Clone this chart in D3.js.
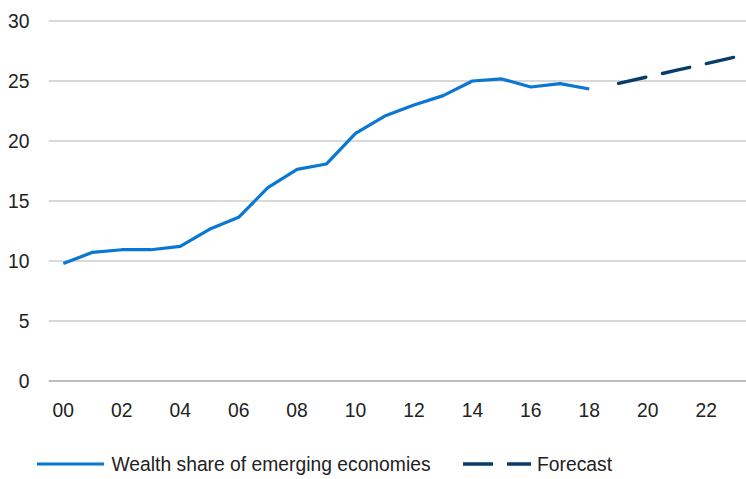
<!DOCTYPE html>
<html><head><meta charset="utf-8">
<script src="https://cdn.jsdelivr.net/npm/d3@7"></script>
<style>
body{margin:0;background:#fff;}
svg text{font-family:"Liberation Sans",Arial,sans-serif;fill:#222;}
</style></head>
<body><svg id="c" width="746" height="479"></svg>
<script>
const years = [2000,2001,2002,2003,2004,2005,2006,2007,2008,2009,2010,2011,2012,2013,2014,2015,2016,2017,2018];
const wealthShare = [9.8,10.72,10.94,10.94,11.22,12.64,13.64,16.11,17.64,18.08,20.64,22.08,23.0,23.78,25.0,25.17,24.5,24.78,24.33];
const forecastYears = [2019,2020,2021,2022,2023];
const forecast = [24.8,25.35,25.9,26.45,27.0];
const yTicks = [0,5,10,15,20,25,30];
const xTicks = [2000,2002,2004,2006,2008,2010,2012,2014,2016,2018,2020,2022];
const xTickLabels = ["00","02","04","06","08","10","12","14","16","18","20","22"];
const seriesNames = ["Wealth share of emerging economies","Forecast"];

const svg = d3.select("#c");
const x = d3.scaleLinear().domain([1999.5,2023.5]).range([48.7,750]);
const y = d3.scaleLinear().domain([0,30]).range([381,21]);
const fs = 19.3;

// gridlines
svg.append("g").selectAll("line").data(yTicks).join("line")
  .attr("x1",48.7).attr("x2",746)
  .attr("y1",d=>y(d)).attr("y2",d=>y(d))
  .attr("stroke",d=>d===0?"#a8a8a8":"#b4b4b4")
  .attr("stroke-width",d=>d===0?1.6:1.1);

// y labels
svg.append("g").selectAll("text").data(yTicks).join("text")
  .attr("x",29.5).attr("y",d=>y(d)).attr("dy","0.36em")
  .attr("text-anchor","end").attr("font-size",fs).text(d=>d);

// x labels
svg.append("g").selectAll("text").data(xTicks).join("text")
  .attr("x",d=>x(d)).attr("y",417).attr("text-anchor","middle")
  .attr("font-size",fs).text((d,i)=>xTickLabels[i]);

const line = d3.line().x(d=>x(d[0])).y(d=>y(d[1]));
svg.append("path").datum(years.map((yr,i)=>[yr,wealthShare[i]]))
  .attr("d",line).attr("fill","none").attr("stroke","#0a78d2")
  .attr("stroke-width",3.2).attr("stroke-linejoin","round");
svg.append("path").datum(forecastYears.map((yr,i)=>[yr,forecast[i]]))
  .attr("d",line).attr("fill","none").attr("stroke","#073d6b")
  .attr("stroke-width",3.4).attr("stroke-dasharray","28,17")
  .attr("stroke-linecap","round");

// legend
const lg = svg.append("g");
lg.append("line").attr("x1",37).attr("x2",104).attr("y1",464).attr("y2",464)
  .attr("stroke","#0a78d2").attr("stroke-width",3.2);
lg.append("text").attr("x",111.5).attr("y",464).attr("dy","0.36em")
  .attr("font-size",fs).text(seriesNames[0]);
lg.append("line").attr("x1",463).attr("x2",531).attr("y1",464).attr("y2",464)
  .attr("stroke","#073d6b").attr("stroke-width",3.4).attr("stroke-dasharray","30,14");
lg.append("text").attr("x",537).attr("y",464).attr("dy","0.36em")
  .attr("font-size",fs).text(seriesNames[1]);
</script></body></html>
